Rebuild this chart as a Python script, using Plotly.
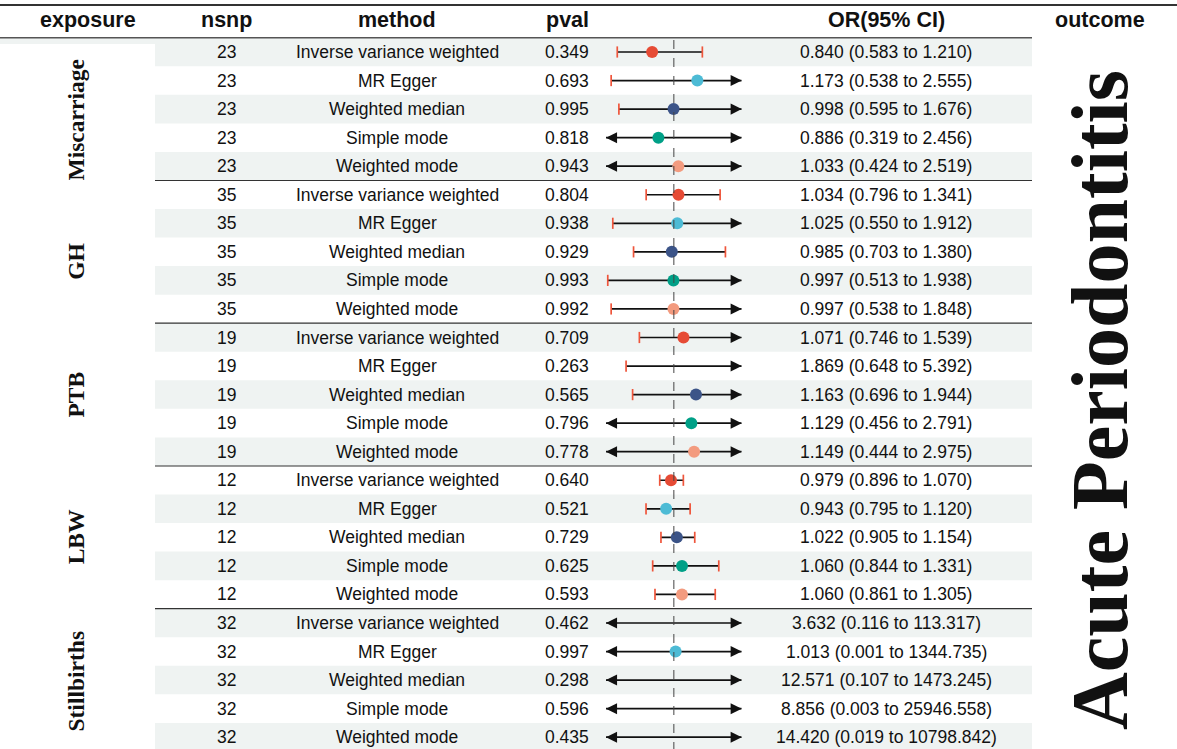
import plotly.graph_objects as go

# ---------------- data ----------------
exposures = ["Miscarriage", "GH", "PTB", "LBW", "Stillbirths"]
nsnp_by_exposure = [23, 35, 19, 12, 32]
methods = ["Inverse variance weighted", "MR Egger", "Weighted median",
           "Simple mode", "Weighted mode"]
method_colors = ["#E64B35", "#4DBBD5", "#3C5488", "#00A087", "#F39B7F"]

pval = [
    "0.349", "0.693", "0.995", "0.818", "0.943",
    "0.804", "0.938", "0.929", "0.993", "0.992",
    "0.709", "0.263", "0.565", "0.796", "0.778",
    "0.640", "0.521", "0.729", "0.625", "0.593",
    "0.462", "0.997", "0.298", "0.596", "0.435",
]
or_est = [
    0.840, 1.173, 0.998, 0.886, 1.033,
    1.034, 1.025, 0.985, 0.997, 0.997,
    1.071, 1.869, 1.163, 1.129, 1.149,
    0.979, 0.943, 1.022, 1.060, 1.060,
    3.632, 1.013, 12.571, 8.856, 14.420,
]
ci_low = [
    0.583, 0.538, 0.595, 0.319, 0.424,
    0.796, 0.550, 0.703, 0.513, 0.538,
    0.746, 0.648, 0.696, 0.456, 0.444,
    0.896, 0.795, 0.905, 0.844, 0.861,
    0.116, 0.001, 0.107, 0.003, 0.019,
]
ci_high = [
    1.210, 2.555, 1.676, 2.456, 2.519,
    1.341, 1.912, 1.380, 1.938, 1.848,
    1.539, 5.392, 1.944, 2.791, 2.975,
    1.070, 1.120, 1.154, 1.331, 1.305,
    113.317, 1344.735, 1473.245, 25946.558, 10798.842,
]
outcome = "Acute Periodontitis"
x_limits = [0.5, 1.5]
ref_line = 1.0

# ---------------- geometry ----------------
W, H = 1177, 749
ROW0 = 52.0      # pixel centre of first row
ROWH = 28.55     # row height in px
n_rows = len(or_est)
n_per = len(methods)


def py(p):
    """pixel y -> row coordinate"""
    return (p - ROW0) / ROWH


def px(p):
    return p / W


TABLE_L, TABLE_R = 155, 1032
SANS = "Liberation Sans, Arial, sans-serif"
SERIF = "Liberation Serif, Times New Roman, serif"
BODY = 17.5
HEAD = 21.5

fig = go.Figure()
shapes = []
ann = []

# row bands
shapes.append(dict(type="rect", xref="paper", yref="y", x0=0, x1=px(TABLE_L),
                   y0=-0.5, y1=py(44), fillcolor="#eff3f2", line_width=0, layer="below"))
for i in range(n_rows):
    if i % 2 == 0:
        shapes.append(dict(type="rect", xref="paper", yref="y",
                           x0=px(TABLE_L), x1=px(TABLE_R), y0=i - 0.5, y1=i + 0.5,
                           fillcolor="#eff3f2", line_width=0, layer="below"))
# top rule and header rule
shapes.append(dict(type="line", xref="paper", yref="y", x0=0, x1=1, y0=py(5), y1=py(5),
                   line=dict(color="#333333", width=2)))
shapes.append(dict(type="line", xref="paper", yref="y", x0=0, x1=px(TABLE_R),
                   y0=-0.5, y1=-0.5, line=dict(color="#555555", width=1.5)))
# group separators
for g in range(1, len(exposures)):
    yy = g * n_per - 0.5
    shapes.append(dict(type="line", xref="paper", yref="y", x0=px(TABLE_L), x1=px(TABLE_R),
                       y0=yy, y1=yy, line=dict(color="#333333", width=1.2)))
# reference dashed line
shapes.append(dict(type="line", xref="x", yref="y", x0=ref_line, x1=ref_line,
                   y0=-0.42, y1=n_rows - 0.45, line=dict(color="#444444", width=1, dash="dash")))

# CI segments, caps, arrows
lx, ly = [], []
cap_x, cap_y = [], []
arrow_kw = dict(xref="x", yref="y", axref="x", ayref="y", text="", showarrow=True,
                arrowhead=2, arrowsize=1.3, arrowwidth=1.7, arrowcolor="#111111", standoff=0)
for i in range(n_rows):
    lo = max(ci_low[i], x_limits[0])
    hi = min(ci_high[i], x_limits[1])
    lx += [lo, hi, None]
    ly += [i, i, None]
    if ci_low[i] >= x_limits[0]:
        cap_x.append(ci_low[i]); cap_y.append(i)
    else:
        ann.append(dict(x=x_limits[0], y=i, ax=x_limits[0] + 0.08, ay=i, **arrow_kw))
    if ci_high[i] <= x_limits[1]:
        cap_x.append(ci_high[i]); cap_y.append(i)
    else:
        ann.append(dict(x=x_limits[1], y=i, ax=x_limits[1] - 0.08, ay=i, **arrow_kw))

fig.add_trace(go.Scatter(x=lx, y=ly, mode="lines", line=dict(color="#111111", width=1.7),
                         hoverinfo="skip", showlegend=False, cliponaxis=False))
fig.add_trace(go.Scatter(x=cap_x, y=cap_y, mode="markers",
                         marker=dict(symbol="line-ns-open", size=8,
                                     line=dict(color="#111111", width=1.7)),
                         hoverinfo="skip", showlegend=False, cliponaxis=False))

# points
for m, (meth, col) in enumerate(zip(methods, method_colors)):
    xs, ys = [], []
    for i in range(m, n_rows, n_per):
        if x_limits[0] <= or_est[i] <= x_limits[1]:
            xs.append(or_est[i]); ys.append(i)
    fig.add_trace(go.Scatter(x=xs, y=ys, mode="markers", name=meth,
                             marker=dict(color=col, size=12, line=dict(width=0)),
                             showlegend=False, cliponaxis=False))

# headers
hy = py(20)
headers = [("exposure", 88), ("nsnp", 226), ("method", 397), ("pval", 567),
           ("OR(95% CI)", 886), ("outcome", 1100)]
for txt, xp in headers:
    ann.append(dict(x=px(xp), y=hy, xref="paper", yref="y", text=txt, showarrow=False,
                    font=dict(family=SANS, size=HEAD, color="#111111", weight="bold"),
                    xanchor="center", yanchor="middle"))

# body text
for i in range(n_rows):
    g = i // n_per
    m = i % n_per
    or_txt = f"{or_est[i]:.3f} ({ci_low[i]:.3f} to {ci_high[i]:.3f})"
    for txt, xp in [(str(nsnp_by_exposure[g]), 226), (methods[m], 397),
                    (pval[i], 567), (or_txt, 886)]:
        ann.append(dict(x=px(xp), y=i, xref="paper", yref="y", text=txt, showarrow=False,
                        font=dict(family=SANS, size=BODY, color="#111111"),
                        xanchor="center", yanchor="middle"))

# exposure labels
label_shift = [0.4, 0.35, 0.0, 0.0, 0.05]
for g, name in enumerate(exposures):
    yc = g * n_per + (n_per - 1) / 2 + label_shift[g]
    ann.append(dict(x=px(76), y=yc, xref="paper", yref="y", text=name, showarrow=False,
                    textangle=-90, font=dict(family=SERIF, size=23.5, color="#111111", weight="bold"),
                    xanchor="center", yanchor="middle"))

# outcome label
ann.append(dict(x=px(1100), y=py(400), xref="paper", yref="y", text=outcome, showarrow=False,
                textangle=-90, font=dict(family=SERIF, size=80, color="#111111", weight="bold"),
                xanchor="center", yanchor="middle"))

fig.update_layout(
    width=W, height=H, margin=dict(l=0, r=0, t=0, b=0),
    paper_bgcolor="white", plot_bgcolor="rgba(0,0,0,0)",
    xaxis=dict(domain=[px(606), px(741.7)], range=x_limits, visible=False, fixedrange=True),
    yaxis=dict(domain=[0, 1], range=[py(H), py(0)], visible=False, fixedrange=True),
    shapes=shapes, annotations=ann, showlegend=False,
)
fig.write_html("out.html", config={"displayModeBar": False},
               post_script="document.body.style.margin='0';document.body.style.overflow='hidden';")
